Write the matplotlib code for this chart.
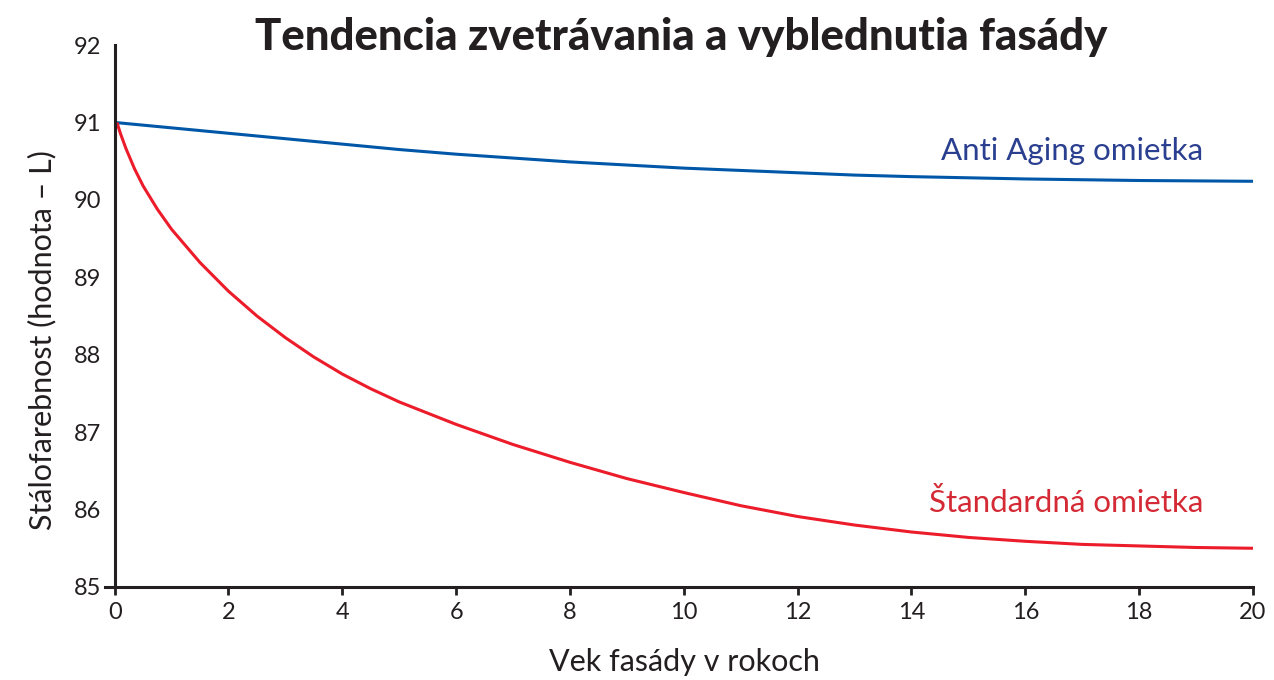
import matplotlib
matplotlib.use("Agg")
import matplotlib.pyplot as plt

# values
anti_x = [0, 1, 2, 3, 4, 5, 6, 7, 8, 9, 10, 11, 12, 13, 14, 15, 16, 17, 18, 19, 20]
anti_y = [91.0, 90.93, 90.86, 90.79, 90.72, 90.65, 90.59, 90.54, 90.49, 90.45,
          90.41, 90.38, 90.35, 90.32, 90.30, 90.285, 90.27, 90.26, 90.25, 90.245, 90.24]

std_x = [0.04, 0.1, 0.2, 0.35, 0.5, 0.75, 1, 1.5, 2, 2.5, 3, 3.5, 4, 4.5, 5, 6, 7, 8,
         9, 10, 11, 12, 13, 14, 15, 16, 17, 18, 19, 20]
std_y = [91.0, 90.86, 90.66, 90.40, 90.18, 89.88, 89.62, 89.19, 88.82, 88.50,
         88.22, 87.97, 87.75, 87.56, 87.39, 87.10, 86.84, 86.61, 86.40, 86.22,
         86.05, 85.91, 85.80, 85.71, 85.64, 85.59, 85.55, 85.53, 85.51, 85.50]

x_ticks = [0, 2, 4, 6, 8, 10, 12, 14, 16, 18, 20]
y_ticks = [85, 86, 87, 88, 89, 90, 91, 92]

title = "Tendencia zvetrávania a vyblednutia fasády"
x_label = "Vek fasády v rokoch"
y_label = "Stálofarebnost (hodnota – L)"
anti_label = "Anti Aging omietka"
std_label = "Štandardná omietka"

plt.rcParams["font.family"] = ["Lato", "DejaVu Sans"]
axis_col = "#231F20"

fig = plt.figure(figsize=(12.74, 6.8), dpi=100)
ax = fig.add_axes([0.0824, 0.1368, 0.9011, 0.797])

ax.plot(anti_x, anti_y, color="#0057A8", lw=2.2, solid_capstyle="butt")
ax.plot(std_x, std_y, color="#EC1C2A", lw=2.2, solid_capstyle="butt")

ax.set_xlim(-0.17, 20)
ax.set_ylim(85, 92)
ax.spines["left"].set_position(("data", 0))
ax.spines["top"].set_visible(False)
ax.spines["right"].set_visible(False)
for s in ["left", "bottom"]:
    ax.spines[s].set_color(axis_col)
    ax.spines[s].set_linewidth(2.2)

ax.set_xticks(x_ticks)
ax.set_yticks(y_ticks)
ax.tick_params(axis="x", direction="out", length=6, width=2, color=axis_col,
               labelsize=17, labelcolor=axis_col, pad=5)
ax.tick_params(axis="y", length=0, labelsize=17, labelcolor=axis_col, pad=10)

ax.text(19.12, 90.51, anti_label, ha="right", va="baseline", fontsize=22.5, color="#2A3F8F")
ax.text(19.12, 85.97, std_label, ha="right", va="baseline", fontsize=22.5, color="#D42A35")

fig.text(0.535, 0.946, title, ha="center", va="center", fontsize=31.5,
         fontweight="black", color=axis_col)
fig.text(0.537, 0.027, x_label, ha="center", va="center", fontsize=22, color=axis_col)
fig.text(0.033, 0.5, y_label, ha="center", va="center", rotation=90, fontsize=22,
         color=axis_col)

fig.savefig("out.png", dpi=100)
